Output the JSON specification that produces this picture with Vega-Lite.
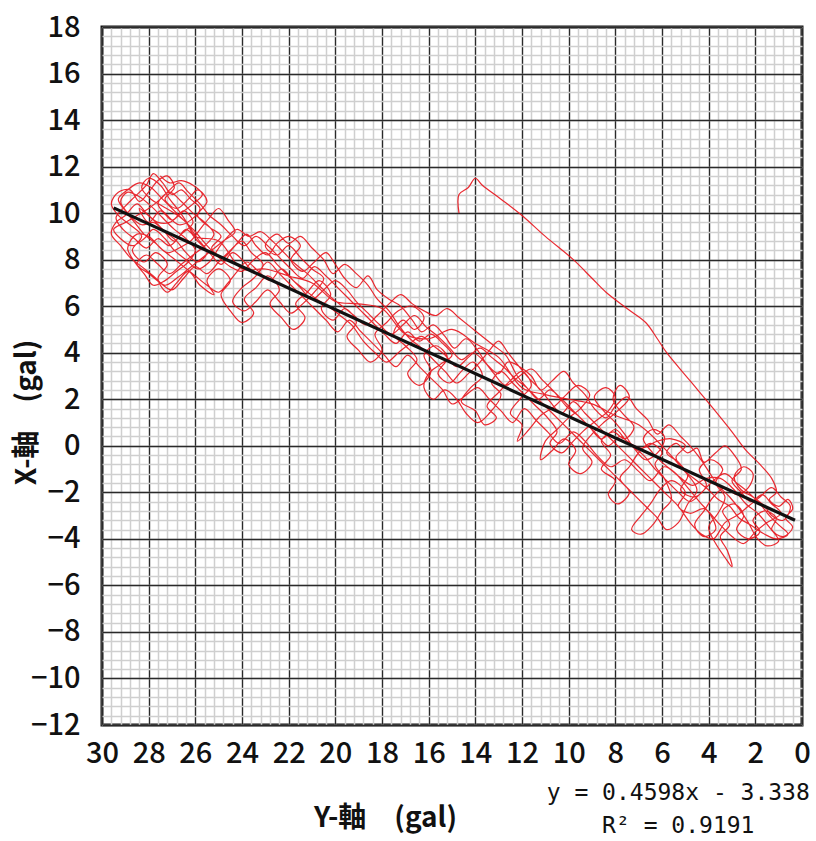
{
  "$schema": "https://vega.github.io/schema/vega-lite/v6.json",
  "width": 700,
  "height": 698,
  "autosize": {"type": "none"},
  "padding": {"left": 102, "top": 27, "right": 14, "bottom": 116},
  "background": "#ffffff",
  "config": {
    "view": {"stroke": "#111111", "strokeWidth": 3},
    "font": "Noto Sans CJK JP"
  },
  "title": {
    "text": ["y = 0.4598x - 3.338", "R² = 0.9191"],
    "orient": "bottom",
    "anchor": "end",
    "align": "center",
    "dx": -132,
    "offset": -50,
    "font": "DejaVu Sans Mono",
    "fontSize": 23,
    "fontWeight": "normal",
    "lineHeight": 33,
    "color": "#111111"
  },
  "datasets": {
    "trace": [
      {"ygal":14.7,"xgal":10.0},{"ygal":14.7,"xgal":10.8},{"ygal":14.3,"xgal":11.1},{"ygal":14.0,"xgal":11.5},{"ygal":13.7,"xgal":11.2},{"ygal":12.9,"xgal":10.6},{"ygal":12.0,"xgal":9.9},{"ygal":11.0,"xgal":9.0},{"ygal":9.8,"xgal":8.0},{"ygal":9.0,"xgal":7.2},{"ygal":8.4,"xgal":6.6},{"ygal":7.5,"xgal":5.9},{"ygal":6.7,"xgal":5.3},{"ygal":6.2,"xgal":4.6},{"ygal":5.8,"xgal":4.0},{"ygal":4.8,"xgal":2.8},{"ygal":3.8,"xgal":1.6},{"ygal":3.0,"xgal":0.6},{"ygal":2.4,"xgal":-0.2},{"ygal":1.8,"xgal":-0.8},{"ygal":1.3,"xgal":-1.4},{"ygal":1.1,"xgal":-2.0},{"ygal":1.4,"xgal":-2.3},
      {"ygal":1.0,"xgal":-2.6},{"ygal":0.6,"xgal":-2.3},{"ygal":0.4,"xgal":-2.7},{"ygal":0.7,"xgal":-3.1},{"ygal":0.4,"xgal":-3.5},{"ygal":0.8,"xgal":-3.9},{"ygal":1.3,"xgal":-3.6},{"ygal":1.1,"xgal":-3.1},{"ygal":1.6,"xgal":-2.8},{"ygal":2.1,"xgal":-3.2},{"ygal":1.8,"xgal":-3.7},{"ygal":2.3,"xgal":-4.0},{"ygal":2.8,"xgal":-3.6},{"ygal":2.5,"xgal":-3.0},{"ygal":2.9,"xgal":-2.5},{"ygal":3.4,"xgal":-2.8},{"ygal":3.1,"xgal":-3.4},{"ygal":3.5,"xgal":-3.9},{"ygal":3.2,"xgal":-4.5},{"ygal":3.0,"xgal":-5.2},{"ygal":3.3,"xgal":-4.8},{"ygal":3.7,"xgal":-4.2},{"ygal":4.0,"xgal":-3.5},{"ygal":3.6,"xgal":-2.9},{"ygal":3.3,"xgal":-2.2},{"ygal":3.7,"xgal":-1.6},{"ygal":3.4,"xgal":-1.0},{"ygal":3.9,"xgal":-0.6},{"ygal":4.4,"xgal":-1.0},{"ygal":4.1,"xgal":-1.7},{"ygal":4.6,"xgal":-2.2},{"ygal":5.2,"xgal":-1.9},{"ygal":4.9,"xgal":-1.3},{"ygal":5.3,"xgal":-0.7},{"ygal":5.8,"xgal":-0.3},{"ygal":5.4,"xgal":0.1},{"ygal":4.9,"xgal":-0.3},{"ygal":4.5,"xgal":-0.1},{"ygal":4.2,"xgal":-0.7},{"ygal":3.7,"xgal":-0.3},{"ygal":3.3,"xgal":0.0},{"ygal":2.9,"xgal":-0.4},{"ygal":2.6,"xgal":-1.0},{"ygal":3.0,"xgal":-1.5},{"ygal":2.6,"xgal":-2.0},{"ygal":2.2,"xgal":-2.4},{"ygal":1.7,"xgal":-2.1},{"ygal":1.3,"xgal":-2.5},{"ygal":0.9,"xgal":-2.9},{"ygal":1.5,"xgal":-3.3},{"ygal":2.0,"xgal":-3.7},{"ygal":2.5,"xgal":-4.2},{"ygal":3.0,"xgal":-3.9},{"ygal":3.6,"xgal":-3.3},{"ygal":4.2,"xgal":-2.7},{"ygal":4.8,"xgal":-2.9},{"ygal":5.3,"xgal":-2.6},{"ygal":5.0,"xgal":-2.0},{"ygal":5.6,"xgal":-1.5},{"ygal":6.1,"xgal":-1.9},{"ygal":6.5,"xgal":-2.5},{"ygal":6.9,"xgal":-3.0},{"ygal":7.3,"xgal":-3.6},{"ygal":6.9,"xgal":-3.8},{"ygal":6.4,"xgal":-3.4},{"ygal":6.0,"xgal":-2.8},{"ygal":5.6,"xgal":-2.3},{"ygal":5.9,"xgal":-1.4},{"ygal":6.3,"xgal":-0.8},{"ygal":6.0,"xgal":-0.3},{"ygal":6.5,"xgal":0.1},{"ygal":7.0,"xgal":-0.3},{"ygal":7.4,"xgal":-0.9},{"ygal":7.8,"xgal":-1.4},{"ygal":7.4,"xgal":-2.0},{"ygal":7.9,"xgal":-2.5},{"ygal":8.3,"xgal":-2.1},{"ygal":8.0,"xgal":-1.5},{"ygal":8.6,"xgal":-1.0},{"ygal":8.2,"xgal":-0.4},{"ygal":8.6,"xgal":0.2},{"ygal":8.1,"xgal":0.6},{"ygal":7.6,"xgal":0.3},{"ygal":7.2,"xgal":0.8},{"ygal":7.7,"xgal":1.4},{"ygal":8.1,"xgal":2.0},{"ygal":7.8,"xgal":2.6},{"ygal":7.4,"xgal":2.1},{"ygal":7.9,"xgal":1.5},{"ygal":8.5,"xgal":1.0},{"ygal":9.0,"xgal":0.5},{"ygal":9.4,"xgal":-0.1},{"ygal":9.0,"xgal":-0.7},{"ygal":9.5,"xgal":-1.2},{"ygal":10.0,"xgal":-0.8},{"ygal":9.7,"xgal":-0.2},{"ygal":10.2,"xgal":0.3},{"ygal":10.7,"xgal":-0.2},{"ygal":11.2,"xgal":-0.6},{"ygal":11.0,"xgal":0.2},{"ygal":10.5,"xgal":0.7},{"ygal":10.0,"xgal":1.2},{"ygal":9.5,"xgal":1.6},{"ygal":9.1,"xgal":2.2},{"ygal":9.6,"xgal":2.6},{"ygal":10.1,"xgal":2.2},{"ygal":10.6,"xgal":1.7},{"ygal":11.2,"xgal":1.3},{"ygal":11.7,"xgal":0.7},{"ygal":12.2,"xgal":0.2},{"ygal":12.0,"xgal":0.9},{"ygal":12.5,"xgal":1.4},{"ygal":12.1,"xgal":2.0},{"ygal":11.6,"xgal":2.6},{"ygal":12.0,"xgal":3.2},{"ygal":12.5,"xgal":2.8},{"ygal":13.0,"xgal":2.3},{"ygal":13.5,"xgal":1.7},{"ygal":13.1,"xgal":1.2},{"ygal":13.6,"xgal":0.9},{"ygal":14.0,"xgal":1.5},{"ygal":14.6,"xgal":1.9},{"ygal":14.2,"xgal":2.5},{"ygal":13.7,"xgal":3.0},{"ygal":14.1,"xgal":3.6},{"ygal":14.6,"xgal":3.2},{"ygal":15.1,"xgal":2.7},{"ygal":15.6,"xgal":3.1},{"ygal":15.2,"xgal":3.8},{"ygal":15.7,"xgal":4.3},{"ygal":16.2,"xgal":3.9},{"ygal":15.9,"xgal":3.2},{"ygal":16.4,"xgal":2.6},{"ygal":16.9,"xgal":3.1},{"ygal":16.5,"xgal":3.7},{"ygal":17.0,"xgal":4.3},{"ygal":17.5,"xgal":4.8},{"ygal":17.1,"xgal":5.4},{"ygal":16.6,"xgal":5.0},{"ygal":16.2,"xgal":5.5},{"ygal":16.7,"xgal":6.0},{"ygal":17.3,"xgal":5.8},{"ygal":17.8,"xgal":5.3},{"ygal":18.3,"xgal":4.8},{"ygal":18.0,"xgal":4.1},{"ygal":18.5,"xgal":3.6},{"ygal":19.0,"xgal":4.1},{"ygal":19.5,"xgal":4.7},{"ygal":19.1,"xgal":5.3},{"ygal":19.6,"xgal":5.9},{"ygal":20.1,"xgal":5.4},{"ygal":20.6,"xgal":5.9},{"ygal":20.2,"xgal":6.5},{"ygal":20.7,"xgal":7.1},{"ygal":21.2,"xgal":6.6},{"ygal":21.7,"xgal":6.1},{"ygal":21.3,"xgal":5.5},{"ygal":21.8,"xgal":5.0},{"ygal":22.3,"xgal":5.5},{"ygal":22.8,"xgal":6.1},{"ygal":22.4,"xgal":6.7},{"ygal":22.9,"xgal":7.3},{"ygal":23.4,"xgal":6.8},{"ygal":23.9,"xgal":6.3},{"ygal":23.5,"xgal":5.7},{"ygal":24.0,"xgal":5.3},{"ygal":24.5,"xgal":5.8},{"ygal":24.9,"xgal":6.5},{"ygal":24.5,"xgal":7.1},{"ygal":25.0,"xgal":7.6},{"ygal":25.5,"xgal":7.1},{"ygal":25.2,"xgal":6.5},{"ygal":25.8,"xgal":6.9},{"ygal":26.3,"xgal":7.5},{"ygal":26.8,"xgal":7.0},{"ygal":27.2,"xgal":6.6},{"ygal":27.6,"xgal":7.2},{"ygal":27.2,"xgal":7.8},{"ygal":27.7,"xgal":8.3},{"ygal":28.2,"xgal":7.9},{"ygal":28.7,"xgal":8.4},{"ygal":28.3,"xgal":9.0},{"ygal":28.8,"xgal":9.5},{"ygal":29.3,"xgal":9.9},{"ygal":29.6,"xgal":10.4},{"ygal":29.3,"xgal":10.9},{"ygal":28.8,"xgal":11.0},{"ygal":28.4,"xgal":10.5},{"ygal":28.0,"xgal":10.9},{"ygal":27.6,"xgal":11.4},{"ygal":27.2,"xgal":11.6},{"ygal":26.9,"xgal":11.1},{"ygal":27.3,"xgal":10.6},{"ygal":26.8,"xgal":10.2},{"ygal":26.3,"xgal":10.6},{"ygal":25.9,"xgal":11.0},{"ygal":25.5,"xgal":10.5},{"ygal":25.9,"xgal":9.9},{"ygal":25.4,"xgal":9.4},{"ygal":24.9,"xgal":9.0},{"ygal":25.3,"xgal":8.5},{"ygal":24.8,"xgal":8.1},{"ygal":24.3,"xgal":8.6},{"ygal":23.8,"xgal":9.1},{"ygal":23.4,"xgal":8.6},{"ygal":22.9,"xgal":8.2},{"ygal":22.5,"xgal":8.7},{"ygal":22.0,"xgal":9.0},{"ygal":21.5,"xgal":8.6},{"ygal":21.9,"xgal":8.0},{"ygal":21.4,"xgal":7.5},{"ygal":20.9,"xgal":7.9},{"ygal":20.4,"xgal":8.3},{"ygal":20.0,"xgal":7.8},{"ygal":19.6,"xgal":7.2},{"ygal":19.1,"xgal":6.8},{"ygal":18.6,"xgal":7.3},{"ygal":18.2,"xgal":6.7},{"ygal":17.7,"xgal":6.3},{"ygal":17.2,"xgal":6.0},{"ygal":16.7,"xgal":5.4},{"ygal":16.3,"xgal":4.9},{"ygal":15.8,"xgal":5.2},{"ygal":15.3,"xgal":4.7},{"ygal":14.9,"xgal":4.2},{"ygal":14.4,"xgal":4.6},{"ygal":13.9,"xgal":4.1},{"ygal":13.5,"xgal":3.5},{"ygal":13.0,"xgal":3.1},{"ygal":12.6,"xgal":3.6},{"ygal":12.1,"xgal":3.4},{"ygal":11.6,"xgal":3.0},{"ygal":11.2,"xgal":2.4},{"ygal":10.7,"xgal":2.8},{"ygal":10.2,"xgal":3.2},{"ygal":9.8,"xgal":2.7},{"ygal":9.3,"xgal":2.2},{"ygal":8.9,"xgal":1.6},{"ygal":8.4,"xgal":1.2},{"ygal":8.0,"xgal":1.7},{"ygal":7.5,"xgal":2.1},{"ygal":7.1,"xgal":1.6},{"ygal":6.6,"xgal":1.1},{"ygal":6.2,"xgal":0.5},{"ygal":5.7,"xgal":0.9},{"ygal":5.2,"xgal":0.4},{"ygal":4.8,"xgal":0.0},{"ygal":4.4,"xgal":-0.5},{"ygal":4.0,"xgal":-1.1},{"ygal":3.6,"xgal":-1.7},{"ygal":3.1,"xgal":-2.2},{"ygal":2.7,"xgal":-2.7},{"ygal":2.3,"xgal":-3.3},{"ygal":1.9,"xgal":-4.0},{"ygal":1.5,"xgal":-4.3},{"ygal":1.0,"xgal":-4.1},
      {"ygal":1.4,"xgal":-3.5},{"ygal":1.9,"xgal":-2.9},{"ygal":2.4,"xgal":-2.5},{"ygal":2.9,"xgal":-1.9},{"ygal":3.5,"xgal":-1.4},{"ygal":4.1,"xgal":-1.4},{"ygal":4.7,"xgal":-1.7},{"ygal":5.3,"xgal":-1.3},{"ygal":5.9,"xgal":-0.9},{"ygal":6.5,"xgal":-1.5},{"ygal":7.0,"xgal":-1.1},{"ygal":7.6,"xgal":-0.6},{"ygal":8.2,"xgal":-0.9},{"ygal":8.8,"xgal":-0.4},{"ygal":9.3,"xgal":0.2},{"ygal":9.8,"xgal":0.6},{"ygal":10.4,"xgal":0.1},{"ygal":10.9,"xgal":0.6},{"ygal":11.4,"xgal":1.1},{"ygal":11.9,"xgal":1.6},{"ygal":12.4,"xgal":1.0},{"ygal":12.9,"xgal":1.5},{"ygal":13.4,"xgal":2.0},{"ygal":13.9,"xgal":2.5},{"ygal":14.5,"xgal":2.1},{"ygal":15.0,"xgal":1.8},{"ygal":15.4,"xgal":2.4},{"ygal":15.9,"xgal":2.9},{"ygal":16.4,"xgal":3.4},{"ygal":16.9,"xgal":3.9},{"ygal":17.4,"xgal":3.4},{"ygal":17.9,"xgal":3.9},{"ygal":18.4,"xgal":4.4},{"ygal":18.9,"xgal":4.9},{"ygal":19.4,"xgal":5.4},{"ygal":19.9,"xgal":4.9},{"ygal":20.4,"xgal":5.4},{"ygal":20.9,"xgal":5.9},{"ygal":21.4,"xgal":6.4},{"ygal":21.9,"xgal":6.9},{"ygal":22.4,"xgal":7.4},{"ygal":22.9,"xgal":7.9},{"ygal":23.4,"xgal":7.4},{"ygal":23.9,"xgal":7.9},{"ygal":24.4,"xgal":8.3},{"ygal":24.9,"xgal":7.8},{"ygal":25.4,"xgal":8.3},{"ygal":25.9,"xgal":8.8},{"ygal":26.4,"xgal":9.3},{"ygal":26.9,"xgal":8.8},{"ygal":27.4,"xgal":9.3},{"ygal":27.9,"xgal":9.8},{"ygal":28.4,"xgal":10.2},{"ygal":28.0,"xgal":9.6},{"ygal":27.5,"xgal":10.1},{"ygal":27.0,"xgal":9.7},{"ygal":26.5,"xgal":10.1},{"ygal":26.1,"xgal":9.6},{"ygal":26.6,"xgal":9.1},{"ygal":27.1,"xgal":8.6},{"ygal":27.6,"xgal":8.9},{"ygal":28.1,"xgal":8.5},{"ygal":28.6,"xgal":8.9},{"ygal":29.1,"xgal":9.3},{"ygal":29.4,"xgal":9.8},{"ygal":29.0,"xgal":10.3},{"ygal":28.6,"xgal":10.7},{"ygal":28.1,"xgal":11.2},{"ygal":27.8,"xgal":11.7},{"ygal":27.4,"xgal":11.3},{"ygal":27.0,"xgal":10.8},{"ygal":26.6,"xgal":11.0},{"ygal":26.2,"xgal":10.6},{"ygal":25.8,"xgal":10.2},{"ygal":26.2,"xgal":9.7},{"ygal":26.7,"xgal":9.5},{"ygal":27.2,"xgal":9.9},{"ygal":27.6,"xgal":10.4},{"ygal":27.1,"xgal":10.9},{"ygal":26.6,"xgal":10.5},{"ygal":26.1,"xgal":10.0},{"ygal":25.6,"xgal":9.6},{"ygal":25.2,"xgal":9.1},{"ygal":25.6,"xgal":8.6},{"ygal":26.1,"xgal":8.2},{"ygal":26.6,"xgal":7.8},{"ygal":27.1,"xgal":7.4},{"ygal":27.6,"xgal":7.8},{"ygal":28.1,"xgal":8.2},{"ygal":28.5,"xgal":7.8},{"ygal":28.0,"xgal":7.4},{"ygal":27.5,"xgal":7.0},{"ygal":27.0,"xgal":6.7},{"ygal":26.5,"xgal":7.2},{"ygal":26.0,"xgal":7.7},{"ygal":25.5,"xgal":7.4},{"ygal":25.0,"xgal":7.9},{"ygal":24.5,"xgal":8.4},{"ygal":24.0,"xgal":8.8},{"ygal":23.6,"xgal":8.3},{"ygal":23.1,"xgal":7.8},{"ygal":23.5,"xgal":7.2},{"ygal":24.0,"xgal":6.8},{"ygal":24.4,"xgal":6.2},{"ygal":23.9,"xgal":5.8},{"ygal":23.4,"xgal":6.2},{"ygal":22.9,"xgal":6.7},{"ygal":22.4,"xgal":6.2},{"ygal":21.9,"xgal":5.7},{"ygal":21.4,"xgal":6.1},{"ygal":20.9,"xgal":6.6},{"ygal":20.5,"xgal":7.2},{"ygal":21.0,"xgal":7.6},{"ygal":21.5,"xgal":8.1},{"ygal":22.0,"xgal":8.6},{"ygal":22.5,"xgal":8.2},{"ygal":23.0,"xgal":8.6},{"ygal":22.5,"xgal":9.1},{"ygal":22.0,"xgal":8.7},{"ygal":21.5,"xgal":9.0},{"ygal":21.0,"xgal":8.5},{"ygal":20.5,"xgal":8.0},{"ygal":20.1,"xgal":7.4},{"ygal":19.6,"xgal":7.8},{"ygal":19.1,"xgal":7.4},{"ygal":18.6,"xgal":6.9},{"ygal":18.2,"xgal":6.3},{"ygal":17.7,"xgal":5.8},{"ygal":17.3,"xgal":5.2},{"ygal":16.8,"xgal":4.6},{"ygal":16.3,"xgal":4.2},{"ygal":15.8,"xgal":3.7},{"ygal":15.3,"xgal":3.2},{"ygal":14.8,"xgal":2.7},{"ygal":14.3,"xgal":3.1},{"ygal":13.8,"xgal":3.6},{"ygal":13.4,"xgal":4.1},{"ygal":13.0,"xgal":4.5},{"ygal":12.6,"xgal":4.0},{"ygal":12.2,"xgal":3.5},{"ygal":11.7,"xgal":2.9},{"ygal":11.2,"xgal":2.4},{"ygal":10.8,"xgal":1.9},{"ygal":10.3,"xgal":1.4},{"ygal":9.8,"xgal":1.9},{"ygal":9.3,"xgal":1.4},{"ygal":8.8,"xgal":0.9},{"ygal":8.3,"xgal":0.4},{"ygal":7.8,"xgal":-0.1},{"ygal":7.3,"xgal":-0.6},{"ygal":6.8,"xgal":-1.1},{"ygal":6.3,"xgal":-1.6},{"ygal":5.8,"xgal":-2.1},{"ygal":5.3,"xgal":-2.6},{"ygal":4.8,"xgal":-3.3},{"ygal":4.3,"xgal":-3.8},{"ygal":3.8,"xgal":-4.0},{"ygal":3.3,"xgal":-3.3},{"ygal":2.8,"xgal":-3.0},{"ygal":2.3,"xgal":-2.6},{"ygal":1.8,"xgal":-2.2},{"ygal":1.3,"xgal":-1.8},{"ygal":0.9,"xgal":-2.2},{"ygal":0.5,"xgal":-2.6},
      {"ygal":0.8,"xgal":-3.2},{"ygal":1.3,"xgal":-3.0},{"ygal":1.6,"xgal":-2.6},{"ygal":2.1,"xgal":-2.2},{"ygal":2.6,"xgal":-1.9},{"ygal":2.9,"xgal":-1.3},{"ygal":2.5,"xgal":-0.9},{"ygal":2.1,"xgal":-1.2},{"ygal":2.3,"xgal":-1.8},{"ygal":2.8,"xgal":-2.1},{"ygal":3.3,"xgal":-1.8},{"ygal":3.8,"xgal":-2.2},{"ygal":4.2,"xgal":-2.8},{"ygal":4.6,"xgal":-3.4},{"ygal":4.2,"xgal":-3.9},{"ygal":3.7,"xgal":-3.6},{"ygal":3.9,"xgal":-3.0},{"ygal":4.4,"xgal":-2.4},{"ygal":4.9,"xgal":-1.8},{"ygal":5.4,"xgal":-1.2},{"ygal":5.9,"xgal":-0.8},{"ygal":6.4,"xgal":-0.3},{"ygal":6.8,"xgal":0.3},{"ygal":6.4,"xgal":0.7},{"ygal":5.9,"xgal":0.4},{"ygal":6.1,"xgal":-0.2},{"ygal":6.7,"xgal":-0.6},{"ygal":7.2,"xgal":-0.1},{"ygal":7.6,"xgal":0.5},{"ygal":8.0,"xgal":1.0},{"ygal":8.5,"xgal":1.5},{"ygal":8.9,"xgal":2.1},{"ygal":8.4,"xgal":2.5},{"ygal":8.0,"xgal":2.1},{"ygal":8.3,"xgal":1.5},{"ygal":8.8,"xgal":1.1},{"ygal":9.3,"xgal":0.7},{"ygal":9.8,"xgal":0.2},{"ygal":10.3,"xgal":-0.3},{"ygal":10.8,"xgal":0.1},{"ygal":10.5,"xgal":0.6},{"ygal":10.9,"xgal":1.2},{"ygal":11.4,"xgal":1.7},{"ygal":11.9,"xgal":2.2},{"ygal":12.4,"xgal":2.7},{"ygal":12.9,"xgal":3.2},{"ygal":13.3,"xgal":2.7},{"ygal":12.9,"xgal":2.2},{"ygal":13.4,"xgal":1.4},{"ygal":13.9,"xgal":1.0},{"ygal":14.4,"xgal":1.4},{"ygal":14.8,"xgal":2.0},{"ygal":15.3,"xgal":2.4},{"ygal":15.8,"xgal":2.0},{"ygal":16.2,"xgal":2.5},{"ygal":16.0,"xgal":3.1},{"ygal":15.5,"xgal":3.5},{"ygal":15.0,"xgal":3.9},{"ygal":15.4,"xgal":4.4},{"ygal":15.9,"xgal":4.8},{"ygal":16.4,"xgal":4.5},{"ygal":16.9,"xgal":4.9},{"ygal":17.4,"xgal":4.4},{"ygal":17.9,"xgal":4.8},{"ygal":18.4,"xgal":5.3},{"ygal":18.9,"xgal":5.8},{"ygal":19.4,"xgal":6.3},{"ygal":19.9,"xgal":6.8},{"ygal":20.4,"xgal":7.3},{"ygal":20.9,"xgal":7.7},{"ygal":21.4,"xgal":7.2},{"ygal":21.9,"xgal":7.6},{"ygal":22.4,"xgal":8.1},{"ygal":22.9,"xgal":8.6},{"ygal":23.4,"xgal":9.0},{"ygal":23.9,"xgal":8.6},{"ygal":24.4,"xgal":9.0},{"ygal":24.9,"xgal":9.5},{"ygal":25.4,"xgal":9.9},{"ygal":25.8,"xgal":10.4},{"ygal":26.3,"xgal":10.9},{"ygal":26.7,"xgal":11.3},{"ygal":27.1,"xgal":11.0},{"ygal":27.5,"xgal":10.6},{"ygal":28.0,"xgal":10.2},{"ygal":28.5,"xgal":9.9},{"ygal":29.0,"xgal":9.6},{"ygal":29.5,"xgal":9.3},{"ygal":29.2,"xgal":8.9},{"ygal":28.7,"xgal":8.6},{"ygal":28.2,"xgal":8.9},{"ygal":27.8,"xgal":9.3},{"ygal":27.3,"xgal":8.9},{"ygal":26.9,"xgal":8.4},{"ygal":26.4,"xgal":8.0},{"ygal":25.9,"xgal":7.6},{"ygal":25.4,"xgal":7.9},{"ygal":25.0,"xgal":8.5},{"ygal":24.6,"xgal":9.0},{"ygal":24.2,"xgal":9.3},{"ygal":23.7,"xgal":9.0},{"ygal":23.2,"xgal":9.2},{"ygal":22.7,"xgal":8.8},{"ygal":22.2,"xgal":8.3},{"ygal":21.7,"xgal":7.8},{"ygal":21.2,"xgal":7.4},{"ygal":20.7,"xgal":6.9},{"ygal":20.2,"xgal":6.4},{"ygal":19.7,"xgal":6.0},{"ygal":19.2,"xgal":5.6},{"ygal":18.7,"xgal":5.2},{"ygal":18.2,"xgal":5.6},{"ygal":17.7,"xgal":6.1},{"ygal":17.2,"xgal":6.5},{"ygal":16.7,"xgal":6.1},{"ygal":16.2,"xgal":5.8},{"ygal":15.7,"xgal":5.6},{"ygal":15.2,"xgal":5.9},{"ygal":14.7,"xgal":5.5},{"ygal":14.2,"xgal":5.1},{"ygal":13.7,"xgal":4.7},{"ygal":13.2,"xgal":4.3},{"ygal":12.7,"xgal":3.9},{"ygal":12.2,"xgal":3.0},{"ygal":11.7,"xgal":2.4},{"ygal":11.2,"xgal":1.9},{"ygal":10.7,"xgal":1.4},{"ygal":10.2,"xgal":0.9},{"ygal":9.7,"xgal":0.4},{"ygal":9.2,"xgal":-0.1},{"ygal":8.7,"xgal":-0.6},{"ygal":8.2,"xgal":-1.1},{"ygal":7.7,"xgal":-1.6},{"ygal":7.2,"xgal":-2.1},{"ygal":6.7,"xgal":-2.6},{"ygal":6.2,"xgal":-3.1},{"ygal":5.8,"xgal":-3.6},{"ygal":5.3,"xgal":-3.3},{"ygal":4.9,"xgal":-2.5},{"ygal":4.5,"xgal":-1.9},
      {"ygal":5.2,"xgal":-0.9},{"ygal":6.0,"xgal":0.0},{"ygal":7.0,"xgal":0.9},{"ygal":8.0,"xgal":1.3},{"ygal":9.0,"xgal":1.8},{"ygal":10.0,"xgal":2.0},{"ygal":11.0,"xgal":2.2},{"ygal":12.0,"xgal":2.5},{"ygal":13.0,"xgal":3.8},{"ygal":14.0,"xgal":4.4},{"ygal":15.0,"xgal":5.0},{"ygal":16.0,"xgal":4.6},{"ygal":17.0,"xgal":4.8},{"ygal":18.0,"xgal":5.9},{"ygal":19.0,"xgal":6.1},{"ygal":20.0,"xgal":6.2},{"ygal":21.0,"xgal":7.0},{"ygal":22.0,"xgal":7.3},{"ygal":23.0,"xgal":7.6},{"ygal":24.0,"xgal":7.6},{"ygal":25.0,"xgal":8.8},
      {"ygal":26.0,"xgal":9.0},{"ygal":26.4,"xgal":9.6},{"ygal":26.9,"xgal":10.0},{"ygal":27.4,"xgal":10.3},{"ygal":27.9,"xgal":10.6},{"ygal":28.3,"xgal":11.1},{"ygal":28.0,"xgal":11.5},{"ygal":27.5,"xgal":11.2},{"ygal":27.1,"xgal":10.6},{"ygal":26.7,"xgal":10.1},{"ygal":26.3,"xgal":9.5},{"ygal":25.9,"xgal":8.9},{"ygal":25.5,"xgal":8.3},{"ygal":25.9,"xgal":7.9},{"ygal":26.4,"xgal":8.3},{"ygal":26.8,"xgal":8.8},{"ygal":27.3,"xgal":9.2},{"ygal":27.8,"xgal":9.6},{"ygal":28.3,"xgal":9.5},{"ygal":28.8,"xgal":9.9},{"ygal":29.2,"xgal":10.5},{"ygal":28.9,"xgal":10.9},{"ygal":28.4,"xgal":10.7},{"ygal":27.9,"xgal":10.3},{"ygal":27.4,"xgal":9.8},{"ygal":26.9,"xgal":9.3},{"ygal":26.4,"xgal":8.9},{"ygal":26.0,"xgal":8.4},{"ygal":26.3,"xgal":7.9},{"ygal":26.8,"xgal":7.5},{"ygal":27.3,"xgal":7.1},{"ygal":27.8,"xgal":6.9},{"ygal":28.2,"xgal":7.4},{"ygal":28.6,"xgal":7.9},{"ygal":28.9,"xgal":8.5},{"ygal":28.5,"xgal":9.1},{"ygal":28.0,"xgal":9.0},{"ygal":27.5,"xgal":8.5},{"ygal":27.0,"xgal":8.1},{"ygal":26.5,"xgal":7.7},{"ygal":26.0,"xgal":7.3},{"ygal":25.5,"xgal":6.9},{"ygal":25.0,"xgal":6.6},{"ygal":24.6,"xgal":7.0},{"ygal":24.2,"xgal":7.5},{"ygal":23.8,"xgal":7.9},{"ygal":23.3,"xgal":7.5},{"ygal":22.8,"xgal":7.1},{"ygal":22.3,"xgal":7.6},{"ygal":21.8,"xgal":7.1},{"ygal":21.3,"xgal":6.7},{"ygal":20.8,"xgal":6.3},{"ygal":20.3,"xgal":6.0},{"ygal":19.8,"xgal":5.6},{"ygal":19.3,"xgal":5.2},{"ygal":18.8,"xgal":4.5},{"ygal":18.3,"xgal":4.0},{"ygal":17.8,"xgal":3.6},{"ygal":17.3,"xgal":4.0},{"ygal":16.8,"xgal":4.4},{"ygal":16.3,"xgal":4.7},{"ygal":15.8,"xgal":4.3},{"ygal":15.3,"xgal":3.9},{"ygal":14.8,"xgal":3.4},{"ygal":14.3,"xgal":3.8},{"ygal":13.8,"xgal":4.2},{"ygal":13.3,"xgal":3.8},{"ygal":12.8,"xgal":3.4},{"ygal":12.3,"xgal":2.9},{"ygal":11.8,"xgal":2.5},{"ygal":11.3,"xgal":2.0},{"ygal":10.8,"xgal":2.4},{"ygal":10.3,"xgal":2.0},{"ygal":9.8,"xgal":1.5},{"ygal":9.3,"xgal":1.0},{"ygal":8.8,"xgal":0.5},{"ygal":8.3,"xgal":0.0},{"ygal":7.8,"xgal":0.4},{"ygal":7.3,"xgal":0.0},{"ygal":6.8,"xgal":-0.4},{"ygal":6.3,"xgal":-1.0},{"ygal":5.8,"xgal":-1.5},{"ygal":5.3,"xgal":-2.0},{"ygal":4.8,"xgal":-2.4},{"ygal":4.3,"xgal":-2.0},{"ygal":3.8,"xgal":-1.5},{"ygal":3.3,"xgal":-1.2},{"ygal":2.8,"xgal":-1.6},{"ygal":2.3,"xgal":-2.0},{"ygal":1.8,"xgal":-2.5},{"ygal":1.4,"xgal":-3.0},{"ygal":1.0,"xgal":-3.4},{"ygal":0.6,"xgal":-3.8},{"ygal":1.1,"xgal":-4.0},{"ygal":1.6,"xgal":-3.8},
      {"ygal":2.2,"xgal":-3.4},{"ygal":2.7,"xgal":-3.1},{"ygal":3.1,"xgal":-2.6},{"ygal":3.6,"xgal":-2.3},{"ygal":4.0,"xgal":-1.9},{"ygal":4.5,"xgal":-1.5},{"ygal":5.0,"xgal":-1.1},{"ygal":5.4,"xgal":-0.5},{"ygal":5.0,"xgal":0.0},{"ygal":5.6,"xgal":0.3},{"ygal":6.2,"xgal":0.2},{"ygal":6.9,"xgal":-0.1},{"ygal":7.5,"xgal":0.2},{"ygal":8.0,"xgal":0.7},{"ygal":8.6,"xgal":0.3},{"ygal":9.1,"xgal":0.8},{"ygal":9.6,"xgal":1.3},{"ygal":10.1,"xgal":1.7},{"ygal":10.6,"xgal":2.3},{"ygal":11.1,"xgal":2.8},{"ygal":11.6,"xgal":3.3},{"ygal":12.1,"xgal":3.0},{"ygal":12.7,"xgal":2.6},{"ygal":13.2,"xgal":3.1},{"ygal":13.6,"xgal":3.6},{"ygal":14.1,"xgal":4.0},{"ygal":14.6,"xgal":3.7},{"ygal":15.1,"xgal":4.2},{"ygal":15.6,"xgal":4.7},{"ygal":16.1,"xgal":5.1},{"ygal":16.6,"xgal":5.6},{"ygal":17.1,"xgal":5.2},{"ygal":17.6,"xgal":4.8},{"ygal":18.1,"xgal":5.2},{"ygal":18.6,"xgal":5.7},{"ygal":19.1,"xgal":6.2},{"ygal":19.5,"xgal":6.7},{"ygal":20.0,"xgal":7.1},{"ygal":20.5,"xgal":6.7},{"ygal":21.0,"xgal":6.3},{"ygal":21.5,"xgal":6.8},{"ygal":22.0,"xgal":7.3},{"ygal":22.5,"xgal":7.8},{"ygal":23.0,"xgal":8.3},{"ygal":23.5,"xgal":8.0},{"ygal":24.0,"xgal":7.5},{"ygal":24.5,"xgal":7.7},{"ygal":25.0,"xgal":8.1},{"ygal":25.5,"xgal":8.6},{"ygal":26.0,"xgal":9.2},{"ygal":26.5,"xgal":9.7},{"ygal":27.0,"xgal":10.2},{"ygal":27.5,"xgal":10.7},{"ygal":27.9,"xgal":11.1},{"ygal":28.4,"xgal":11.3},{"ygal":28.9,"xgal":11.0},{"ygal":29.3,"xgal":10.6},{"ygal":29.0,"xgal":10.1},{"ygal":28.6,"xgal":9.6},{"ygal":28.2,"xgal":9.1},{"ygal":27.7,"xgal":8.7},{"ygal":27.2,"xgal":8.3},{"ygal":26.7,"xgal":8.5},{"ygal":26.2,"xgal":8.8},{"ygal":25.8,"xgal":9.3},{"ygal":25.4,"xgal":9.8},{"ygal":25.0,"xgal":10.2},{"ygal":24.6,"xgal":9.7},{"ygal":24.3,"xgal":9.2},{"ygal":24.8,"xgal":8.8},{"ygal":25.3,"xgal":8.4},{"ygal":25.8,"xgal":8.0},{"ygal":26.3,"xgal":7.6},{"ygal":26.8,"xgal":7.2},{"ygal":27.3,"xgal":6.9},{"ygal":27.8,"xgal":7.3},{"ygal":28.3,"xgal":7.7},{"ygal":28.8,"xgal":8.1},{"ygal":29.2,"xgal":8.6},{"ygal":29.6,"xgal":9.1},{"ygal":29.4,"xgal":9.6},{"ygal":29.0,"xgal":9.9},{"ygal":28.5,"xgal":10.4},{"ygal":28.1,"xgal":10.0},{"ygal":27.6,"xgal":9.6},{"ygal":27.1,"xgal":9.6},{"ygal":26.6,"xgal":10.0},{"ygal":26.1,"xgal":10.4},{"ygal":25.7,"xgal":10.8},{"ygal":26.1,"xgal":11.2},{"ygal":26.6,"xgal":11.4},{"ygal":27.1,"xgal":11.3},{"ygal":27.5,"xgal":11.6}
    ],
    "fit": [
      {"ygal": 29.5, "xgal": 10.226},
      {"ygal": 0.3, "xgal": -3.200}
    ]
  },
  "resolve": {"axis": {"x": "independent", "y": "independent"}},
  "layer": [
    {
      "data": {"name": "trace"},
      "mark": {"type": "line", "color": "#e8131b", "strokeWidth": 1.2, "opacity": 0.9, "clip": true, "interpolate": "catmull-rom"},
      "encoding": {
        "x": {
          "field": "ygal", "type": "quantitative",
          "scale": {"domain": [0, 30], "reverse": true, "nice": false, "zero": false},
          "axis": {
            "orient": "top", "labels": false, "ticks": false, "domain": false, "title": null,
            "grid": true, "gridColor": "#cfcfcf", "gridWidth": 1.5, "gridOpacity": 1,
            "values": [0,0.4,0.8,1.2,1.6,2,2.4,2.8,3.2,3.6,4,4.4,4.8,5.2,5.6,6,6.4,6.8,7.2,7.6,8,8.4,8.8,9.2,9.6,10,10.4,10.8,11.2,11.6,12,12.4,12.8,13.2,13.6,14,14.4,14.8,15.2,15.6,16,16.4,16.8,17.2,17.6,18,18.4,18.8,19.2,19.6,20,20.4,20.8,21.2,21.6,22,22.4,22.8,23.2,23.6,24,24.4,24.8,25.2,25.6,26,26.4,26.8,27.2,27.6,28,28.4,28.8,29.2,29.6,30]
          }
        },
        "y": {
          "field": "xgal", "type": "quantitative",
          "scale": {"domain": [-12, 18], "nice": false, "zero": false},
          "axis": {
            "orient": "right", "labels": false, "ticks": false, "domain": false, "title": null,
            "grid": true, "gridColor": "#cfcfcf", "gridWidth": 1.5, "gridOpacity": 1,
            "values": [-12,-11.6,-11.2,-10.8,-10.4,-10,-9.6,-9.2,-8.8,-8.4,-8,-7.6,-7.2,-6.8,-6.4,-6,-5.6,-5.2,-4.8,-4.4,-4,-3.6,-3.2,-2.8,-2.4,-2,-1.6,-1.2,-0.8,-0.4,0,0.4,0.8,1.2,1.6,2,2.4,2.8,3.2,3.6,4,4.4,4.8,5.2,5.6,6,6.4,6.8,7.2,7.6,8,8.4,8.8,9.2,9.6,10,10.4,10.8,11.2,11.6,12,12.4,12.8,13.2,13.6,14,14.4,14.8,15.2,15.6,16,16.4,16.8,17.2,17.6,18]
          }
        },
        "order": {"value": null}
      }
    },
    {
      "data": {"name": "fit"},
      "mark": {"type": "line", "color": "#111111", "strokeWidth": 3.2},
      "encoding": {
        "x": {
          "field": "ygal", "type": "quantitative",
          "axis": {
            "orient": "bottom",
            "values": [0,2,4,6,8,10,12,14,16,18,20,22,24,26,28,30],
            "grid": true, "gridColor": "#2a2a2a", "gridWidth": 1.3, "gridOpacity": 1,
            "domain": false, "ticks": false,
            "labelFont": "Noto Sans CJK JP", "labelFontSize": 29, "labelFontWeight": 500, "labelColor": "#111111",
            "labelPadding": 14, "labelOverlap": false, "labelFlush": false,
            "title": "Y-軸　(gal)",
            "titleFont": "Noto Sans CJK JP", "titleFontSize": 28, "titleFontWeight": "bold",
            "titleColor": "#111111", "titleX": 283, "titleY": 93, "titleBaseline": "middle", "titleAnchor": null, "titleAlign": "center"
          }
        },
        "y": {
          "field": "xgal", "type": "quantitative",
          "axis": {
            "orient": "left",
            "values": [-12,-10,-8,-6,-4,-2,0,2,4,6,8,10,12,14,16,18],
            "grid": true, "gridColor": "#2a2a2a", "gridWidth": 1.3, "gridOpacity": 1,
            "domain": false, "ticks": false,
            "labelFont": "Noto Sans CJK JP", "labelFontSize": 29, "labelFontWeight": 500, "labelColor": "#111111",
            "labelPadding": 22, "labelOverlap": false, "labelFlush": false,
            "title": "X-軸　(gal)",
            "titleFont": "Noto Sans CJK JP", "titleFontSize": 28, "titleFontWeight": "bold",
            "titleColor": "#111111", "titleX": -75, "titleY": 385, "titleAngle": -90, "titleBaseline": "middle", "titleAnchor": null, "titleAlign": "center"
          }
        }
      }
    }
  ]
}
